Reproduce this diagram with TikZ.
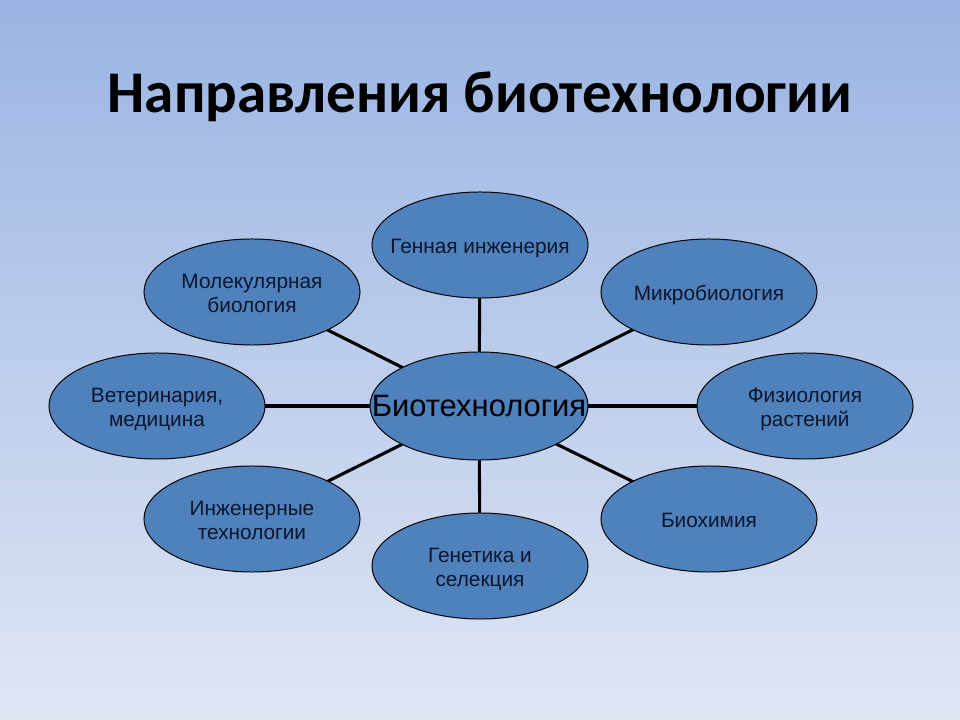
\documentclass[tikz,border=0pt]{standalone}
\usepackage{fontspec}
\setmainfont{Liberation Sans}
\newfontfamily\titlefont{Carlito}
\usepackage{tikz}
\usetikzlibrary{shapes}
\usetikzlibrary{backgrounds}
\definecolor{skytop}{HTML}{99B4E3}
\definecolor{skybottom}{HTML}{E0E6F4}
\definecolor{ovalblue}{HTML}{4F81BD}
\definecolor{ovalink}{HTML}{0C162D}
\newcommand{\ovaltext}[1]{\makebox[0pt]{\raisebox{-2.5pt}[\height][\depth]{\begin{tabular}{@{}c@{}}#1\end{tabular}}}}

\begin{document}
\begin{tikzpicture}[
        x = 0.025cm, y = -0.025cm,
        branch/.style = {ellipse, draw = black, line width = 0.7pt, fill = ovalblue, text = ovalink,
                         minimum width = 5.4cm, minimum height = 2.65cm, inner sep = 0pt,
                         font = \fontsize{14.8}{17}\selectfont},
        hub/.style = {branch, text = black, minimum width = 5.45cm, minimum height = 2.7cm,
                      font = \fontsize{22}{26}\selectfont},
        link/.style = {draw = black, line width = 2.2pt},
        ]
    \begin{scope}[on background layer]
        \fill[top color = skytop, bottom color = skybottom] (0,0) rectangle (960,720);
    \end{scope}
    \node[anchor = base, font = \titlefont\bfseries\fontsize{42}{50}\selectfont] (title) at (480,113) {Направления биотехнологии};
    % the hub
    \node[hub] (bio) at (479,406) {\ovaltext{Биотехнология}};
    % the branches
    \node[branch] (gen) at (480,245) {\ovaltext{Генная инженерия}};
    \node[branch] (mol) at (252,292) {\ovaltext{Молекулярная\\биология}};
    \node[branch] (mic) at (709,292) {\ovaltext{Микробиология}};
    \node[branch] (vet) at (157,406) {\ovaltext{Ветеринария,\\медицина}};
    \node[branch] (fiz) at (805,406) {\ovaltext{Физиология\\растений}};
    \node[branch] (ing) at (252,519) {\ovaltext{Инженерные\\технологии}};
    \node[branch] (bch) at (709,519) {\ovaltext{Биохимия}};
    \node[branch] (sel) at (480,566) {\ovaltext{Генетика и\\селекция}};
    \begin{scope}[on background layer]
        \foreach \b in {gen, mol, mic, vet, fiz, ing, bch, sel}
            \draw[link] (bio.center) -- (\b.center);
    \end{scope}
\end{tikzpicture}
\end{document}
